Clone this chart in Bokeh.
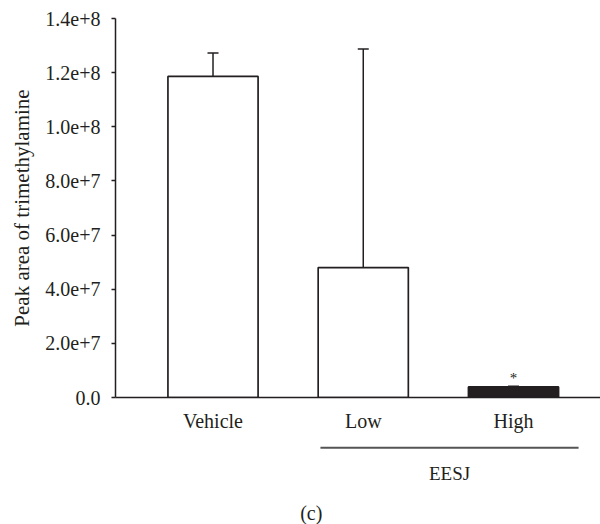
from bokeh.plotting import figure
from bokeh.layouts import column
from bokeh.models import (ColumnDataSource, Range1d, FixedTicker, Whisker, TeeHead)
from bokeh.core.properties import value
from bokeh.embed import file_html
from bokeh.resources import INLINE

# ---- data ----
categories = ["Vehicle", "Low", "High"]
means = [1.186e8, 4.80e7, 3.9e6]
errors = [0.087e8, 8.07e7, 0.3e6]
fills = ["white", "white", "#231f20"]
y_ticks = [0, 2e7, 4e7, 6e7, 8e7, 1.0e8, 1.2e8, 1.4e8]
y_tick_labels = ["0.0", "2.0e+7", "4.0e+7", "6.0e+7", "8.0e+7", "1.0e+8", "1.2e+8", "1.4e+8"]
group_name = "EESJ"
group_members = ["Low", "High"]
sig_marks = ["", "", "*"]
panel_tag = "(c)"

FONT = "Liberation Serif"
DARK = "#231f20"

W = 600
H1, H2 = 440, 84
TOP, LEFT = 18, 115
FRAME_H = 379
Y_MAX = 1.4e8

xs = list(range(len(categories)))
bar_w = 0.6
xr = Range1d(-0.649, 2.579)

p = figure(width=W, height=H1, output_backend="svg", toolbar_location=None,
           x_range=xr, y_range=Range1d(0, Y_MAX),
           min_border_top=TOP, min_border_bottom=H1 - TOP - FRAME_H,
           min_border_left=LEFT, min_border_right=0)
p.outline_line_color = None
p.xgrid.visible = False
p.ygrid.visible = False

src = ColumnDataSource(dict(x=xs, top=means, fill=fills,
                            upper=[m + e for m, e in zip(means, errors)],
                            lower=means, mark=sig_marks))
p.vbar(x="x", top="top", width=bar_w, bottom=0, source=src,
       fill_color="fill", line_color=DARK, line_width=1.7)

wh = Whisker(base="x", upper="upper", lower="lower", source=src,
             line_color=DARK, line_width=1.5,
             upper_head=TeeHead(size=11, line_color=DARK, line_width=1.5),
             lower_head=None)
p.add_layout(wh)

p.text(x="x", y="upper", text="mark", source=src,
       text_font=value(FONT), text_font_size="15px", text_color=DARK,
       text_align="center", text_baseline="bottom", y_offset=0)

# y axis
ya = p.yaxis[0]
ya.ticker = FixedTicker(ticks=y_ticks)
ya.major_label_overrides = {t: s for t, s in zip(y_ticks, y_tick_labels)}
ya.minor_tick_line_color = None
ya.major_tick_in = 0
ya.major_tick_out = 4
ya.major_label_standoff = 11
ya.axis_line_color = DARK
ya.axis_line_width = 1.5
ya.major_tick_line_color = DARK
ya.major_tick_line_width = 1.5
ya.major_label_text_font = FONT
ya.major_label_text_font_size = "20px"
ya.major_label_text_color = DARK
ya.axis_label = "Peak area of trimethylamine"
ya.axis_label_text_font = FONT
ya.axis_label_text_font_size = "21px"
ya.axis_label_text_font_style = "normal"
ya.axis_label_text_color = DARK
ya.axis_label_standoff = 8

# x axis
xa = p.xaxis[0]
xa.ticker = FixedTicker(ticks=xs)
xa.major_label_overrides = {i: c for i, c in enumerate(categories)}
xa.minor_tick_line_color = None
xa.major_tick_line_color = None
xa.major_tick_in = 0
xa.major_tick_out = 0
xa.major_label_standoff = 12
xa.axis_line_color = DARK
xa.axis_line_width = 1.5
xa.major_label_text_font = FONT
xa.major_label_text_font_size = "20px"
xa.major_label_text_color = DARK

# ---- lower strip: group bracket and panel tag ----
q = figure(width=W, height=H2, output_backend="svg", toolbar_location=None,
           x_range=xr, y_range=Range1d(H2, 0),
           min_border_top=0, min_border_bottom=0,
           min_border_left=LEFT, min_border_right=0)
q.axis.visible = False
q.grid.visible = False
q.outline_line_color = None

g_idx = [categories.index(g) for g in group_members]
g_start = min(g_idx) - bar_w / 2 + 0.015
g_end = max(g_idx) + 0.433
q.segment(x0=[g_start], y0=[7.3], x1=[g_end], y1=[7.3],
          line_color="#555555", line_width=2)
q.text(x=[(g_start + g_end) / 2], y=[33], text=[group_name],
       text_font=value(FONT), text_font_size="19px", text_color=DARK,
       text_align="center", text_baseline="middle")
q.text(x=[0.654], y=[72], text=[panel_tag],
       text_font=value(FONT), text_font_size="20px", text_color=DARK,
       text_align="center", text_baseline="middle")

layout = column(p, q, spacing=0)
open("out.html", "w").write(file_html(layout, INLINE))
